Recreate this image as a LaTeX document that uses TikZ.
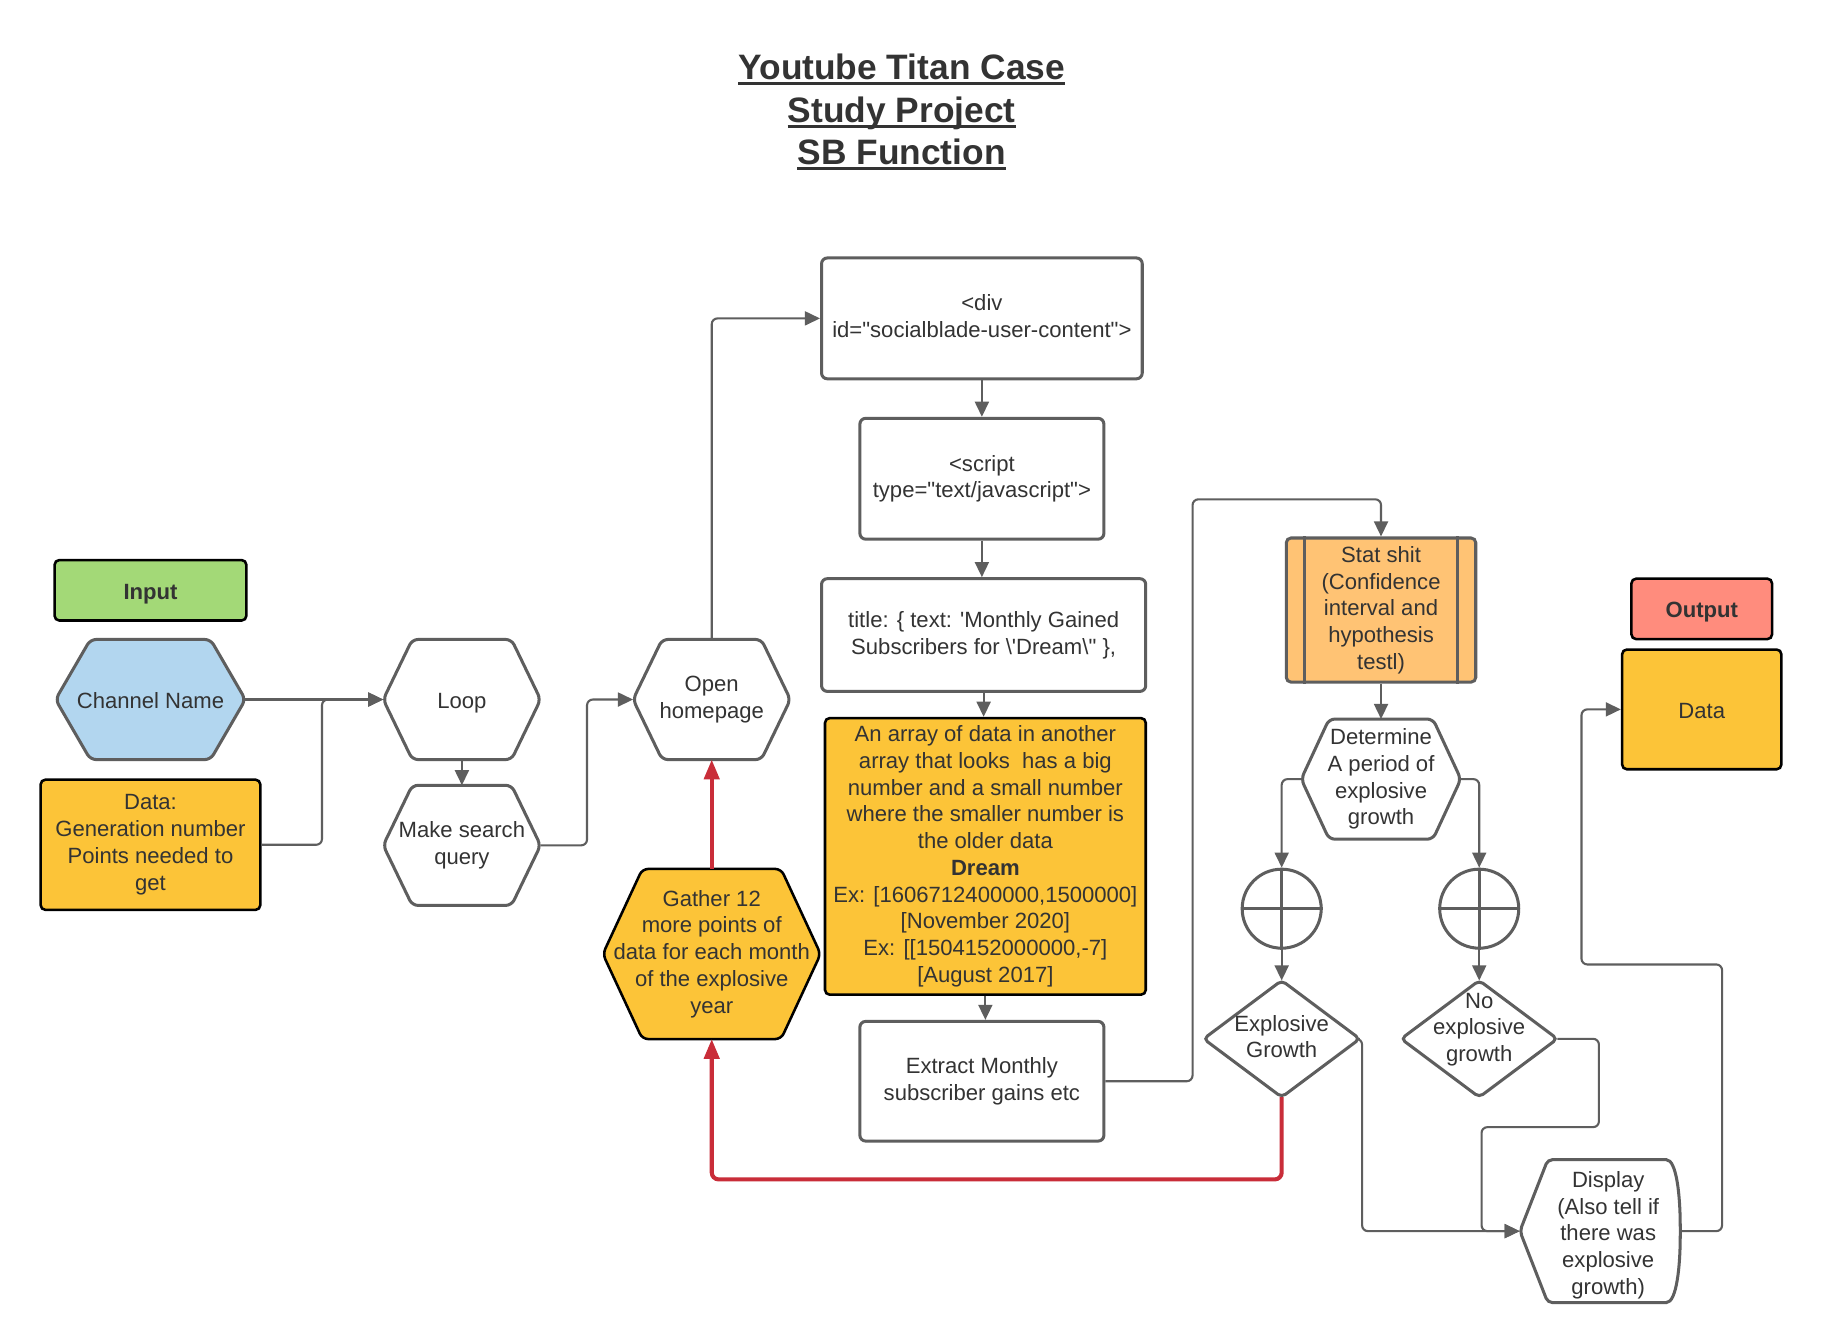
\documentclass[tikz,border=0pt]{standalone}
\usetikzlibrary{arrows.meta,backgrounds}
\definecolor{lgray}{HTML}{5E5E5E}
\definecolor{txtc}{HTML}{333333}
\definecolor{cgreen}{HTML}{A3D977}
\definecolor{cblue}{HTML}{B2D6EF}
\definecolor{cyellow}{HTML}{FCC438}
\definecolor{corange}{HTML}{FFC374}
\definecolor{csalmon}{HTML}{FF8C7D}
\definecolor{cred}{HTML}{C92D39}
\font\ftxt="Liberation Sans" at 19pt
\font\fbf="Liberation Sans/B" at 19pt
\font\ftitle="Liberation Sans/B" at 30.4pt
\newcommand\mystrut{\vrule width 0pt height 19pt depth 4pt\relax}
\newcommand\myhex[4]{\draw[#4,fill=#3] (#1.west) -- ([xshift=#2pt]#1.north west) -- ([xshift=-#2pt]#1.north east) -- (#1.east) -- ([xshift=-#2pt]#1.south east) -- ([xshift=#2pt]#1.south west) -- cycle;}
\newcommand\mydiam[1]{\draw[shp,fill=white,rounded corners=4pt] (#1.north) -- (#1.east) -- (#1.south) -- (#1.west) -- cycle;}
\begin{document}
\begin{tikzpicture}[x=1pt,y=-1pt,
  every node/.style={font={\ftxt\baselineskip=23pt}, text=txtc, align=center, inner sep=0pt,
    execute at begin node=\mystrut, execute at end node=\mystrut},
  gbox/.style={draw=lgray, line width=2.6pt, rounded corners=5pt, fill=white},
  kbox/.style={draw=black, line width=2.2pt, rounded corners=4pt},
  shp/.style={draw=lgray, line width=2.6pt, rounded corners=5pt},
  kshp/.style={draw=black, line width=2.2pt, rounded corners=5pt},
  conn/.style={draw=lgray, line width=1.8pt, rounded corners=5pt, -{Triangle[length=13pt,width=12pt]}},
  redc/.style={draw=cred, line width=3.5pt, rounded corners=6pt, -{Triangle[length=17pt,width=13pt]}},
  ttl/.style={font=\ftitle, anchor=base, execute at begin node={}, execute at end node={}},
]
\useasboundingbox (0,0) rectangle (1568,1155.7);

% title
\node[ttl] (t1) at (776,68.5) {Youtube Titan Case};
\node[ttl] (t2) at (776,105) {Study Project};
\node[ttl] (t3) at (776,141.5) {SB Function};
\foreach \t in {t1,t2,t3}
  \draw[draw=txtc, line width=2.5pt] ([yshift=-3.5pt]\t.base west) -- ([yshift=-3.5pt]\t.base east);

% left column
\node[kbox, fill=cgreen, minimum width=165pt, minimum height=52pt] (input) at (129.5,508) {\fbf Input};
\node[minimum width=163pt, minimum height=103pt] (chan) at (129.5,602) {Channel Name};
\node[kbox, fill=cyellow, minimum width=189pt, minimum height=112pt] (data) at (129.5,727) {Data:\\Generation number\\Points needed to\\get};
\node[minimum width=135pt, minimum height=103pt] (loop) at (397.5,602) {Loop};
\node[minimum width=135pt, minimum height=103pt] (msq) at (397.5,727.5) {Make search\\query};
\node[minimum width=135pt, minimum height=103pt] (open) at (612.5,602) {Open\\homepage};
\node[minimum width=187pt, minimum height=146pt] (gather) at (612.5,821) {Gather 12\\more points of\\data for each month\\of the explosive\\year};

% middle column
\node[gbox, minimum width=276pt, minimum height=104pt] (div) at (845,274) {<div\\id="socialblade-user-content">};
\node[gbox, minimum width=210pt, minimum height=104pt] (script) at (845,412) {<script\\type="text/javascript">};
\node[gbox, minimum width=279pt, minimum height=97pt] (tbox) at (846.5,546.5) {title: \char"7B\ text: 'Monthly Gained\\Subscribers for \char"5C'Dream\char"5C" \char"7D,};
\node[kbox, fill=cyellow, minimum width=276pt, minimum height=238pt] (array) at (848,737) {An array of data in another\\array that looks\ \ has a big\\number and a small number\\where the smaller number is\\the older data\\{\fbf Dream}\\Ex: {[}1606712400000,1500000{]}\\{[}November 2020{]}\\Ex: {[[}1504152000000,-7{]}\\{[}August 2017{]}};
\node[gbox, minimum width=210pt, minimum height=103pt] (extract) at (845,930.5) {Extract Monthly\\subscriber gains etc};

% right part
\node[gbox, rounded corners=4pt, fill=corange, minimum width=163pt, minimum height=124pt] (stat) at (1188.5,525) {Stat shit\\(Confidence\\interval and\\hypothesis\\testl)};
\draw[draw=lgray, line width=2.6pt] ([xshift=17pt]stat.north west) -- ([xshift=17pt]stat.south west)
  ([xshift=-17pt]stat.north east) -- ([xshift=-17pt]stat.south east);
\node[minimum width=137pt, minimum height=103pt] (det) at (1188.5,670.5) {Determine\\A period of\\explosive\\growth};
\node[circle, draw=lgray, line width=2.6pt, fill=white, minimum size=68pt] (c1) at (1103,782) {};
\node[circle, draw=lgray, line width=2.6pt, fill=white, minimum size=68pt] (c2) at (1273,782) {};
\draw[draw=lgray, line width=2.6pt] (c1.north) -- (c1.south) (c1.west) -- (c1.east)
  (c2.north) -- (c2.south) (c2.west) -- (c2.east);
\node[minimum width=134pt, minimum height=100pt] (dg1) at (1103,894) {Explosive\\Growth};
\node[minimum width=134pt, minimum height=100pt] (dg2) at (1273,894) {};
\node (dg2t) at (1273,886) {No\\explosive\\growth};
\node[minimum width=138pt, minimum height=123pt] (disp) at (1377,1059.5) {};
\node (dispt) at (1384,1063) {Display\\(Also tell if\\there was\\explosive\\growth)};
\node[kbox, fill=csalmon, minimum width=121pt, minimum height=52pt] (output) at (1464.5,524) {\fbf Output};
\node[kbox, fill=cyellow, minimum width=137pt, minimum height=103pt] (dout) at (1464.5,610.5) {Data};

% shapes behind the texts
\begin{pgfonlayer}{background}
\fill[white] (0,0) rectangle (1568,1155.7);
\myhex{chan}{30}{cblue}{shp}
\myhex{loop}{25}{white}{shp}
\myhex{msq}{25}{white}{shp}
\myhex{open}{25}{white}{shp}
\myhex{gather}{34}{cyellow}{kshp}
\myhex{det}{24}{white}{shp}
\mydiam{dg1}
\mydiam{dg2}
\draw[shp, fill=white, rounded corners=4pt] (1308,1059.5) -- (1332,998) -- (1430,998)
  .. controls (1443,998) and (1446,1030) .. (1446,1059.5)
  .. controls (1446,1089) and (1443,1121) .. (1430,1121) -- (1332,1121) -- cycle;
\end{pgfonlayer}

% connectors
\draw[conn] (chan.east) -- (loop.west);
\draw[conn] (data.east) -- ++(52,0) |- (loop.west);
\draw[conn] (loop.south) -- (msq.north);
\draw[conn] (msq.east) -- ++(40,0) |- (open.west);
\draw[conn] (open.north) |- (div.west);
\draw[conn] (div.south) -- (script.north);
\draw[conn] (script.south) -- (script.south |- tbox.north);
\draw[conn] (tbox.south) -- (tbox.south |- array.north);
\draw[conn] (array.south) -- (array.south |- extract.north);
\draw[conn] (extract.east) -- ++(75,0) |- ([yshift=32pt]stat.north) -- (stat.north);
\draw[conn] (stat.south) -- (det.north);
\draw[conn] (det.west) -| (c1.north);
\draw[conn] (det.east) -| (c2.north);
\draw[conn] (c1.south) -- (dg1.north);
\draw[conn] (c2.south) -- (dg2.north);
\draw[conn] (dg1.east) -- ++(2,0) |- (disp.west);
\draw[conn] (dg2.east) -| (1376,970) -| (1275,1059.5) -- (disp.west);
\draw[conn] (disp.east) -- (1482,1059.5) |- (1361,830) |- (dout.west);
\draw[redc] (gather.north) -- (open.south);
\draw[redc] (dg1.south) -- (1103,1015) -| (gather.south);
\end{tikzpicture}
\end{document}
